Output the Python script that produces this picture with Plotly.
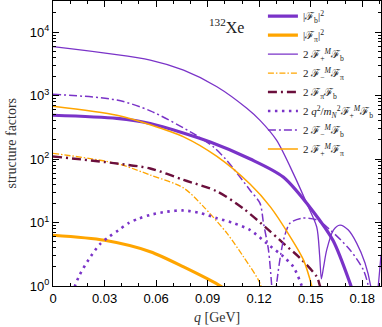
import plotly.graph_objects as go

PURPLE = "#7a33c8"
ORANGE = "#ffa500"
MAROON = "#6b0f3c"

# |F_b|^2
q_fb2 = [0.0, 0.0372, 0.0566, 0.0915, 0.1148, 0.134, 0.1515, 0.163, 0.1729, 0.1765]
v_fb2 = [490, 437, 363, 186, 100, 52, 14.8, 5.2, 1.1, 0.55]

# |F_pi|^2
q_fpi2 = [0.0, 0.03, 0.0566, 0.076, 0.0974, 0.1005]
v_fpi2 = [6.3, 5.25, 3.47, 2.0, 1.0, 0.85]

# 2 F+^M F_b
q_fpfb = [0.0, 0.0566, 0.076, 0.0954, 0.1128, 0.1205, 0.130, 0.1399, 0.1477, 0.1535, 0.1552, 0.1562,
          0.1575, 0.1593, 0.1632, 0.167, 0.1719, 0.1768, 0.1816, 0.1849, 0.1866, 0.1876, 0.1893, 0.1909]
v_fpfb = [5890, 3630, 2510, 1380, 631, 407, 200, 59, 20, 8.5, 3.0, 1.3,
          2.0, 3.7, 7.6, 9.1, 7.6, 4.7, 2.3, 1.0, 0.4, 0.4, 1.0, 3.1]

# 2 F-^M F_pi
q_fmfpi = [0.0, 0.0372, 0.0566, 0.076, 0.0876, 0.1012, 0.1108, 0.1205, 0.1225]
v_fmfpi = [123, 85, 56, 35, 17.8, 6.8, 2.9, 1.1, 0.6]

# 2 F_pi F_b
q_fpifb = [0.0, 0.0372, 0.0566, 0.076, 0.0954, 0.1108, 0.1244, 0.1341, 0.1438, 0.1535, 0.1554, 0.1572]
v_fpifb = [110, 85, 71, 47, 31, 16.6, 8.1, 4.7, 2.75, 1.4, 1.0, 0.7]

# 2 q^2/m_N^2 F+^M F_b
q_q2 = [0.010, 0.013, 0.0155, 0.0207, 0.0271, 0.0324, 0.0382, 0.044, 0.0498, 0.0566, 0.0662, 0.076,
        0.0857, 0.0954, 0.105, 0.1148, 0.1244, 0.1341, 0.1399, 0.1448, 0.147]
v_q2 = [0.6, 1.04, 1.5, 2.6, 4.5, 5.9, 7.6, 9.8, 11.5, 13.2, 14.8, 15.5,
        14.1, 11.7, 9.8, 7.6, 4.7, 2.9, 2.0, 1.0, 0.6]

# 2 F-^M F_b
q_fmfb = [0.0, 0.0372, 0.0566, 0.0818, 0.0934, 0.1012, 0.1148, 0.1205, 0.1225, 0.1254, 0.1273, 0.1285,
          0.1300, 0.1341, 0.138, 0.1448, 0.1535, 0.1603, 0.1729, 0.1806, 0.1835, 0.1860]
v_fmfb = [1050, 851, 575, 251, 155, 95, 32, 20, 9.8, 3.7, 1.0, 0.3,
          1.0, 5.2, 9.8, 11.7, 11.0, 8.1, 3.7, 1.8, 1.0, 0.3]

# 2 F+^M F_pi
q_fpfpi = [0.0, 0.0372, 0.0566, 0.076, 0.0954, 0.1148, 0.1264, 0.138, 0.1457, 0.1506, 0.153]
v_fpfpi = [680, 490, 347, 224, 110, 40, 17.8, 6.0, 2.6, 1.0, 0.5]

legend_names = [
    "|ℱ<sub>b</sub>|<sup>2</sup>",
    "|ℱ<sub>π</sub>|<sup>2</sup>",
    "2 ℱ<sub>+</sub><sup><i>M</i></sup>ℱ<sub>b</sub>",
    "2 ℱ<sub>−</sub><sup><i>M</i></sup>ℱ<sub>π</sub>",
    "2 ℱ<sub>π</sub>ℱ<sub>b</sub>",
    "2 <i>q</i><sup>2</sup>/<i>m</i><sub><i>N</i></sub><sup>2</sup>ℱ<sub>+</sub><sup><i>M</i></sup>ℱ<sub>b</sub>",
    "2 ℱ<sub>−</sub><sup><i>M</i></sup>ℱ<sub>b</sub>",
    "2 ℱ<sub>+</sub><sup><i>M</i></sup>ℱ<sub>π</sub>",
]

series = [
    (q_fb2, v_fb2, PURPLE, 3.2, "solid"),
    (q_fpi2, v_fpi2, ORANGE, 3.2, "solid"),
    (q_fpfb, v_fpfb, PURPLE, 1.3, "solid"),
    (q_fmfpi, v_fmfpi, ORANGE, 1.3, "6px,2px,1.5px,2px"),
    (q_fpifb, v_fpifb, MAROON, 2.4, "9px,4px,2px,4px"),
    (q_q2, v_q2, PURPLE, 2.6, "2.5px,4.5px"),
    (q_fmfb, v_fmfb, PURPLE, 1.5, "8px,3px,2px,3px"),
    (q_fpfpi, v_fpfpi, ORANGE, 1.5, "solid"),
]

fig = go.Figure()
for (qs, vs, col, w, dash), name in zip(series, legend_names):
    fig.add_trace(go.Scatter(
        x=qs, y=vs, mode="lines", name=name,
        line=dict(color=col, width=w, dash=dash, shape="spline", smoothing=0.8),
    ))

minor_y = [m * 10 ** d for d in range(0, 5) for m in range(2, 10)]
SERIF = "Liberation Serif, DejaVu Serif, serif"

fig.update_layout(
    width=382, height=327,
    margin=dict(l=53, r=1, t=1, b=41),
    paper_bgcolor="white", plot_bgcolor="white",
    font=dict(family="Liberation Sans, Arial, sans-serif", color="black", size=13),
    showlegend=True,
    legend=dict(
        x=0.640, y=0.998, xanchor="left", yanchor="top",
        bgcolor="rgba(0,0,0,0)", borderwidth=0,
        font=dict(family=SERIF, size=11, color="#222"),
        itemwidth=30, tracegroupgap=0,
    ),
    xaxis=dict(
        range=[0, 0.1909], showgrid=False, zeroline=False,
        showline=True, linecolor="black", linewidth=1, mirror="allticks",
        ticks="inside", ticklen=6, tickcolor="black",
        tickvals=[0, 0.03, 0.06, 0.09, 0.12, 0.15, 0.18],
        ticktext=["0", "0.03", "0.06", "0.09", "0.12", "0.15", "0.18"],
        minor=dict(ticks="inside", ticklen=3, tickcolor="black", dtick=0.01, tick0=0, showgrid=False),
    ),
    yaxis=dict(
        type="log", range=[0, 4.49], showgrid=False, zeroline=False,
        showline=True, linecolor="black", linewidth=1, mirror="allticks",
        ticks="inside", ticklen=6, tickcolor="black",
        tickvals=[1, 10, 100, 1000, 10000],
        ticktext=["10<sup>0</sup>", "10<sup>1</sup>", "10<sup>2</sup>", "10<sup>3</sup>", "10<sup>4</sup>"],
        minor=dict(ticks="inside", ticklen=3, tickcolor="black", tickvals=minor_y, showgrid=False),
    ),
    annotations=[
        dict(text="<sup>132</sup>Xe", x=0.528, y=0.955, xref="paper", yref="paper",
             xanchor="center", yanchor="top",
             showarrow=False, font=dict(family=SERIF, size=16, color="#222")),
        dict(text="<i>q</i> [GeV]", x=0.5, y=-0.112, xref="paper", yref="paper",
             xanchor="center", yanchor="middle",
             showarrow=False, font=dict(family=SERIF, size=14, color="#333")),
        dict(text="structure factors", x=-0.128, y=0.5, xref="paper", yref="paper",
             xanchor="center", yanchor="middle",
             textangle=-90, showarrow=False, font=dict(family=SERIF, size=14, color="#333")),
    ],
)

fig.write_html("out.html", config={"displayModeBar": False},
               post_script="document.body.style.margin='0';document.body.style.overflow='hidden';")
